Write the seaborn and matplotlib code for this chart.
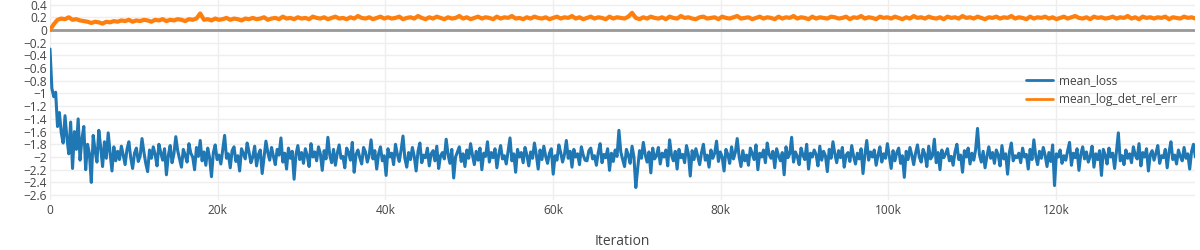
import numpy as np
import pandas as pd
import matplotlib
matplotlib.use("Agg")
import matplotlib.pyplot as plt
from matplotlib.ticker import FuncFormatter
import seaborn as sns

# ── data ────────────────────────────────────────────────────
# mean_loss sampled every 224 iterations, the error series every 448
STEP_LOSS = 224
STEP_ERR = 448
SERIES = ["mean_loss", "mean_log_det_rel_err"]
COLORS = ["#1f77b4", "#ff7f0e"]

mean_loss = [
    -0.30, -0.92, -1.05, -0.98, -1.52, -1.30, -1.62, -1.78, -1.35, -1.70, -1.95, -1.45,
    -2.18, -1.60, -1.88, -1.40, -2.05, -1.72, -1.52, -2.20, -1.80, -1.95, -2.40, -1.66,
    -1.90, -2.08, -1.58, -1.85, -2.15, -1.76, -2.02, -1.62, -1.93, -2.22, -1.84, -2.06,
    -1.91, -2.04, -1.83, -1.97, -2.12, -1.88, -1.76, -2.01, -2.18, -1.94, -1.86, -2.07,
    -1.99, -1.71, -1.92, -2.10, -2.23, -1.89, -2.02, -1.84, -1.96, -2.14, -1.80, -1.93,
    -2.05, -1.87, -2.28, -1.98, -1.82, -2.09, -1.95, -1.68, -1.90, -2.03, -2.16, -1.88,
    -1.97, -2.08, -1.79, -1.94, -2.00, -2.20, -1.85, -1.99, -1.74, -2.06, -1.92, -2.13,
    -1.86, -2.01, -2.31, -1.93, -1.81, -2.04, -1.97, -2.11, -1.88, -1.66, -2.02, -1.95,
    -2.17, -1.90, -1.84, -2.07, -1.98, -2.22, -1.87, -1.95, -2.03, -1.78, -1.92, -2.09,
    -2.00, -1.83, -2.14, -1.96, -1.89, -2.26, -2.01, -1.75, -1.93, -2.05, -1.85, -1.99,
    -2.12, -1.88, -1.97, -1.70, -2.08, -1.94, -2.19, -1.86, -2.02, -1.91, -2.35, -1.96,
    -1.82, -2.04, -1.93, -2.10, -1.87, -1.98, -2.15, -1.79, -2.00, -1.92, -2.06, -1.84,
    -1.95, -2.21, -1.90, -2.03, -1.69, -1.97, -2.09, -1.88, -2.13, -1.94, -1.81, -2.02,
    -1.99, -2.17, -1.86, -1.93, -2.05, -1.77, -2.24, -1.96, -1.89, -2.01, -2.11, -1.85,
    -1.92, -2.08, -1.97, -1.73, -2.03, -1.90, -2.19, -1.95, -1.84, -2.06, -1.98, -2.29,
    -1.87, -2.00, -1.94, -2.12, -1.80, -1.96, -2.07, -1.89, -1.67, -2.02, -2.16, -1.93,
    -2.04, -1.85, -1.99, -2.22, -1.91, -1.78, -2.09, -1.97, -2.01, -1.86, -2.14, -1.95,
    -1.90, -2.06, -1.83, -2.18, -1.98, -1.93, -2.03, -1.72, -1.96, -2.10, -1.88, -2.33,
    -2.00, -1.92, -1.84, -2.07, -1.95, -2.15, -1.89, -2.02, -1.79, -1.97, -2.12, -1.91,
    -2.05, -1.86, -2.20, -1.94, -1.99, -1.76, -2.08, -1.93, -2.01, -1.87, -2.17, -1.96,
    -1.82, -2.03, -1.98, -2.11, -1.90, -1.70, -2.06, -1.95, -2.24, -1.88, -2.00, -1.93,
    -2.09, -1.85, -1.97, -2.14, -1.92, -2.02, -1.78, -1.96, -2.19, -1.89, -2.04, -1.83,
    -1.99, -2.10, -1.94, -1.87, -2.27, -1.98, -2.05, -1.81, -1.93, -2.08, -1.96, -1.74,
    -2.02, -1.91, -2.16, -1.88, -2.00, -1.95, -2.12, -1.84, -1.97, -2.05, -2.06, -1.90,
    -1.86, -2.03, -1.98, -2.13, -1.93, -1.79, -2.09, -1.96, -2.01, -1.87, -2.21, -1.94,
    -2.07, -1.89, -1.99, -1.58, -1.92, -2.04, -2.15, -1.88, -1.97, -2.10, -1.83, -2.00,
    -2.48, -2.18, -1.90, -2.02, -1.77, -1.96, -2.08, -1.92, -2.25, -1.86, -2.03, -1.98,
    -1.85, -2.11, -1.94, -2.00, -1.89, -2.14, -1.73, -1.97, -2.06, -1.91, -2.19, -1.88,
    -2.01, -1.96, -2.09, -1.82, -1.95, -2.30, -1.90, -2.04, -1.87, -1.99, -2.12, -1.93,
    -1.80, -2.05, -1.97, -2.16, -1.89, -2.02, -1.94, -1.75, -2.07, -1.92, -2.00, -2.22,
    -1.88, -1.96, -2.10, -1.84, -2.03, -1.93, -1.71, -1.99, -2.15, -1.90, -2.06, -1.97,
    -2.13, -1.86, -1.95, -2.04, -1.81, -2.20, -1.94, -2.00, -1.89, -2.09, -1.78, -1.96,
    -2.02, -1.91, -2.17, -1.87, -1.98, -2.06, -1.93, -2.28, -1.84, -2.01, -1.95, -1.69,
    -2.08, -1.92, -1.99, -2.12, -1.86, -1.97, -2.04, -1.80, -2.19, -1.94, -2.00, -1.89,
    -1.96, -2.14, -1.83, -2.05, -1.91, -1.98, -2.23, -1.88, -2.02, -1.76, -1.95, -2.09,
    -1.90, -2.01, -1.85, -2.16, -1.97, -1.93, -2.07, -1.82, -1.99, -2.11, -1.94, -2.03,
    -1.87, -2.26, -1.96, -1.74, -2.05, -1.92, -2.00, -1.89, -2.13, -1.97, -1.84, -2.08,
    -1.95, -2.02, -1.79, -1.99, -2.18, -1.90, -2.06, -1.93, -1.86, -2.10, -1.98, -2.32,
    -1.91, -2.04, -1.85, -1.97, -2.12, -1.94, -1.81, -2.00, -2.08, -1.88, -1.96, -2.15,
    -1.83, -2.03, -1.98, -1.72, -2.09, -1.93, -2.20, -1.89, -2.01, -1.95, -1.87, -2.06,
    -1.99, -2.13, -1.92, -1.80, -2.04, -1.97, -2.24, -1.90, -2.00, -1.86, -2.11, -1.94,
    -2.05, -1.88, -1.55, -1.96, -2.08, -1.91, -2.17, -1.99, -1.84, -2.02, -1.93, -2.10,
    -1.89, -1.97, -2.14, -1.82, -2.03, -1.95, -2.27, -1.92, -1.78, -2.06, -1.98, -2.01,
    -1.94, -2.09, -1.86, -2.00, -1.96, -2.19, -1.88, -2.04, -1.73, -1.99, -2.12, -1.91,
    -2.02, -1.85, -1.97, -2.15, -1.93, -2.07, -1.81, -2.45, -1.95, -2.00, -1.89, -2.10,
    -1.98, -2.05, -1.90, -1.77, -2.13, -1.94, -2.01, -1.87, -2.21, -1.96, -1.84, -2.03,
    -1.92, -2.08, -1.99, -1.83, -2.16, -1.95, -2.04, -1.90, -2.29, -1.88, -1.97, -2.11,
    -1.86, -2.00, -1.94, -2.18, -1.91, -1.62, -2.06, -1.98, -2.12, -1.89, -2.02, -1.95,
    -2.09, -1.84, -1.97, -2.03, -1.79, -2.14, -1.93, -2.00, -1.87, -2.22, -1.96, -1.90,
    -2.05, -1.94, -1.82, -2.10, -1.98, -2.01, -1.88, -2.17, -1.92, -1.76, -2.04, -1.97,
    -2.11, -1.89, -1.99, -2.06, -1.85, -2.02, -1.95, -2.19, -1.91, -1.80, -2.00, -1.94,
]

mean_log_det_rel_err = [
    0.00, 0.09, 0.16, 0.18, 0.17, 0.20, 0.16, 0.17, 0.15, 0.14, 0.13, 0.11,
    0.13, 0.12, 0.10, 0.13, 0.12, 0.14,
    0.13, 0.15, 0.14, 0.16, 0.13, 0.15, 0.14, 0.16, 0.15, 0.13, 0.16, 0.15,
    0.17, 0.14, 0.16, 0.15, 0.17, 0.16, 0.14, 0.17, 0.16, 0.18, 0.26, 0.16,
    0.17, 0.15, 0.18, 0.16, 0.17, 0.19, 0.16, 0.18, 0.17, 0.15, 0.18, 0.17,
    0.19, 0.17, 0.18, 0.20, 0.16, 0.18, 0.19, 0.17, 0.21, 0.18, 0.19, 0.17,
    0.20, 0.18, 0.19, 0.17, 0.21, 0.19, 0.18, 0.20, 0.17, 0.19, 0.21, 0.18,
    0.19, 0.17, 0.20, 0.18, 0.22, 0.19, 0.18, 0.20, 0.17, 0.19, 0.21, 0.18,
    0.20, 0.18, 0.19, 0.21, 0.17, 0.19, 0.20, 0.18, 0.22, 0.19, 0.17, 0.20,
    0.18, 0.21, 0.19, 0.17, 0.20, 0.18, 0.19, 0.22, 0.18, 0.20, 0.17, 0.19,
    0.21, 0.18, 0.20, 0.19, 0.17, 0.21, 0.18, 0.20, 0.19, 0.22, 0.18, 0.19,
    0.17, 0.20, 0.18, 0.21, 0.19, 0.18, 0.20, 0.17, 0.19, 0.21, 0.18, 0.20,
    0.19, 0.22, 0.18, 0.20, 0.17, 0.19, 0.21, 0.18, 0.20, 0.19, 0.17, 0.21,
    0.18, 0.20, 0.19, 0.18, 0.21, 0.27, 0.19, 0.17, 0.20, 0.18, 0.21, 0.19,
    0.18, 0.20, 0.17, 0.21, 0.19, 0.18, 0.22, 0.19, 0.20, 0.18, 0.17, 0.20,
    0.21, 0.18, 0.19, 0.20, 0.17, 0.21, 0.19, 0.18, 0.20, 0.22, 0.18, 0.19,
    0.20, 0.17, 0.19, 0.21, 0.18, 0.20, 0.19, 0.17, 0.21, 0.18, 0.20, 0.19,
    0.22, 0.18, 0.20, 0.19, 0.17, 0.21, 0.18, 0.20, 0.19, 0.18, 0.21, 0.20,
    0.18, 0.19, 0.21, 0.17, 0.20, 0.19, 0.22, 0.18, 0.20, 0.19, 0.17, 0.21,
    0.19, 0.20, 0.18, 0.21, 0.19, 0.17, 0.20, 0.18, 0.22, 0.19, 0.20, 0.18,
    0.21, 0.19, 0.18, 0.20, 0.17, 0.21, 0.19, 0.20, 0.18, 0.22, 0.19, 0.20,
    0.18, 0.21, 0.19, 0.17, 0.20, 0.19, 0.21, 0.18, 0.20, 0.19, 0.22, 0.18,
    0.20, 0.19, 0.17, 0.21, 0.18, 0.20, 0.19, 0.21, 0.18, 0.20, 0.17, 0.19,
    0.21, 0.18, 0.20, 0.22, 0.19, 0.18, 0.20, 0.17, 0.21, 0.19, 0.20, 0.18,
    0.19, 0.21, 0.18, 0.20, 0.19, 0.22, 0.18, 0.20, 0.17, 0.21, 0.19, 0.20,
    0.18, 0.20, 0.19, 0.21, 0.17, 0.20, 0.19, 0.18, 0.21, 0.19, 0.20, 0.18,
]

X_TICKS = [0, 20000, 40000, 60000, 80000, 100000, 120000]
X_TICK_LABELS = ["0", "20k", "40k", "60k", "80k", "100k", "120k"]
Y_TICKS = [0.4, 0.2, 0, -0.2, -0.4, -0.6, -0.8, -1, -1.2, -1.4, -1.6,
           -1.8, -2, -2.2, -2.4, -2.6]

loss_df = pd.DataFrame({"iteration": np.arange(len(mean_loss)) * STEP_LOSS,
                        "value": mean_loss, "series": SERIES[0]})
err_df = pd.DataFrame({"iteration": np.arange(len(mean_log_det_rel_err)) * STEP_ERR,
                       "value": mean_log_det_rel_err, "series": SERIES[1]})

sns.set_style("white")
plt.rcParams["font.family"] = ["Open Sans", "DejaVu Sans"]

fig = plt.figure(figsize=(12, 2.5), dpi=100)
ax = fig.add_axes([50 / 1200, 0.2, 1145 / 1200, 0.8])

ax.axhline(0, color="#999999", lw=2, zorder=1.5)
sns.lineplot(data=loss_df, x="iteration", y="value", color=COLORS[0],
             linewidth=2.2, estimator=None, sort=False, label=SERIES[0],
             ax=ax, zorder=2)
sns.lineplot(data=err_df, x="iteration", y="value", color=COLORS[1],
             linewidth=3.0, estimator=None, sort=False, label=SERIES[1],
             ax=ax, zorder=2.1)

ax.set_xlim(0, 136600)
ax.set_ylim(-2.677, 0.472)
ax.set_xticks(X_TICKS)
ax.set_xticklabels(X_TICK_LABELS)
ax.set_yticks(Y_TICKS)


def fmt_y(v, _):
    s = f"{v:.1f}".rstrip("0").rstrip(".")
    if s in ("-0", "0"):
        return "0"
    return s.replace("-", "\u2212")


ax.yaxis.set_major_formatter(FuncFormatter(fmt_y))
ax.grid(True, color="#eeeeee", lw=1, zorder=0)
ax.set_axisbelow(True)
for sp in ax.spines.values():
    sp.set_visible(False)
ax.tick_params(axis="both", length=0, labelsize=8.6, labelcolor="#444444")
ax.tick_params(axis="y", pad=2)
ax.tick_params(axis="x", pad=3)
ax.set_ylabel("")
ax.set_xlabel("Iteration", fontsize=10, color="#444444", labelpad=12)

handles, labels = ax.get_legend_handles_labels()
ax.legend(handles, labels, loc="upper left", bbox_to_anchor=(1026 / 1200, 1 - 74 / 250),
          bbox_transform=fig.transFigure, frameon=False, fontsize=8.6,
          handlelength=2.3, handletextpad=0.45, labelspacing=0.5,
          borderpad=0, borderaxespad=0)
for line in ax.get_legend().get_lines():
    line.set_linewidth(2)
for txt in ax.get_legend().get_texts():
    txt.set_color("#444444")

fig.savefig("out.png", dpi=100)
